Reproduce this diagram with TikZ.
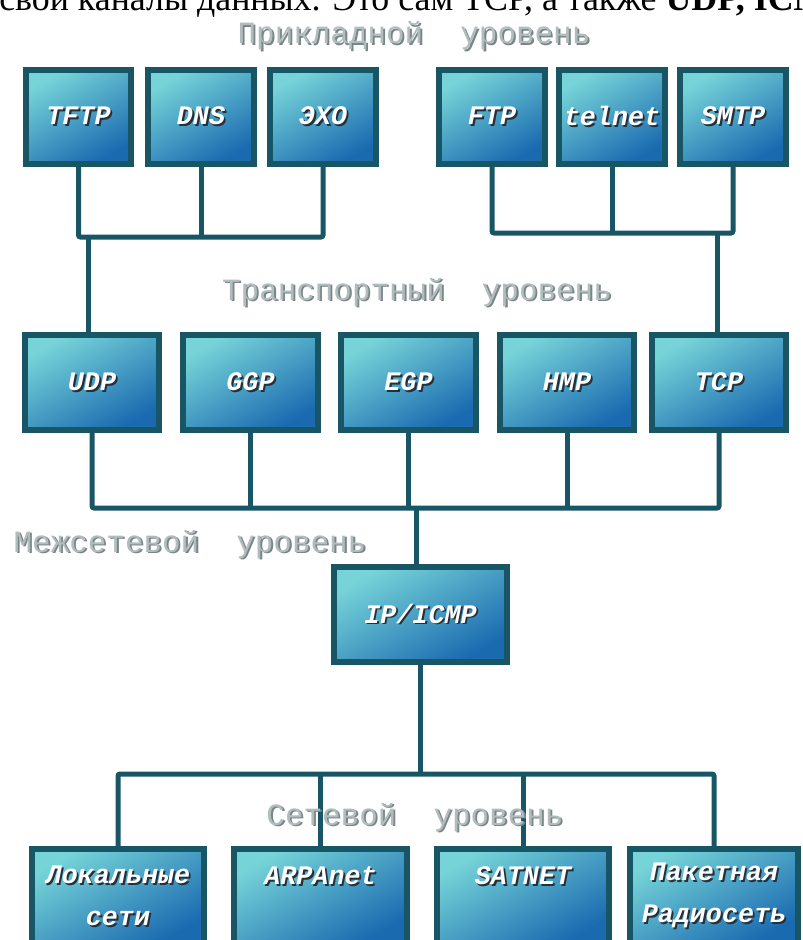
\documentclass[tikz,border=0pt]{standalone}
\usepackage{fontspec}
\setmainfont{Liberation Serif}
\newfontfamily\protofont{Liberation Mono}
\definecolor{edgeC}{RGB}{24,86,102}
\definecolor{boxTop}{RGB}{118,212,216}
\definecolor{boxBot}{RGB}{26,106,176}
\definecolor{layerC}{RGB}{178,188,188}
\definecolor{layerS}{RGB}{120,134,136}
\definecolor{protoS}{RGB}{38,48,58}
% text with a drop shadow: {colour}{shadow colour}{text}
\newcommand{\castshadow}[3]{\rlap{\kern1.3pt\raisebox{-1.3pt}{\textcolor{#2}{#3}}}\textcolor{#1}{#3}}
\newcommand{\plab}[1]{\castshadow{white}{protoS}{#1}}
\newcommand{\llab}[1]{\castshadow{layerC}{layerS}{#1}}

\begin{document}
\begin{tikzpicture}[x=0.025cm,y=-0.025cm,
    proto/.style={draw=edgeC,line width=0.15cm,top color=boxTop,bottom color=boxBot,
      shading angle=30,minimum width=2.625cm,minimum height=2.35cm,inner sep=0pt,
      align=center,font=\protofont\bfseries\itshape\fontsize{19}{30}\selectfont},
    widebox/.style={proto,minimum width=3.35cm,minimum height=2.375cm},
    netbox/.style={proto,minimum width=4.3cm,minimum height=2.375cm},
    link/.style={draw=edgeC,line width=0.125cm,rounded corners=0.05cm},
    layer/.style={anchor=base,inner sep=0pt,font=\protofont\fontsize{22}{26}\selectfont}]
  \useasboundingbox (0,0) rectangle (802,940);
  \clip (0,0) rectangle (802,940);

  % cut-off line of the page above
  \node[anchor=base west,inner sep=0pt,font=\fontsize{25.5}{30}\selectfont] (intro) at (-1,11)
    {свои каналы данных. Это сам TCP, а также \textbf{UDP, ICMP}};

  % application protocols
  \node[proto] (tftp) at (78.5,117) {\plab{TFTP}};
  \node[proto] (dns) at (201,117) {\plab{DNS}};
  \node[proto] (echo) at (323,117) {\plab{ЭХО}};
  \node[proto] (ftp) at (492,117) {\plab{FTP}};
  \node[proto] (telnet) at (612,117) {\plab{telnet}};
  \node[proto] (smtp) at (733,117) {\plab{SMTP}};

  % transport protocols
  \node[widebox] (udp) at (92,382.5) {\plab{UDP}};
  \node[widebox] (ggp) at (250.5,382.5) {\plab{GGP}};
  \node[widebox] (egp) at (408.5,382.5) {\plab{EGP}};
  \node[widebox] (hmp) at (567,382.5) {\plab{HMP}};
  \node[widebox] (tcp) at (719,382.5) {\plab{TCP}};

  % internet layer
  \node[proto,minimum width=4.325cm,minimum height=2.375cm] (ip) at (420.5,614.5) {\plab{IP/ICMP}};

  % networks
  \node[netbox] (lan) at (118,896.5) {\plab{Локальные}\\\plab{сети}};
  \node[netbox] (arpa) at (320.5,896.5) {\plab{ARPAnet}\\\phantom{сети}};
  \node[netbox] (satnet) at (523,896.5) {\plab{SATNET}\\\phantom{сети}};
  \node[netbox,minimum width=4.2cm] (radio) at (714,896.5) {\plab{Пакетная}\\\plab{Радиосеть}};

  % junctions
  \coordinate (appL) at (88,237);
  \coordinate (appR) at (717,233);
  \coordinate (trbus) at (416,508);
  \coordinate (netbus) at (418,774);

  % application -> transport
  \draw[link] (tftp.south) |- (echo.south |- appL) -- (echo.south);
  \draw[link] (dns.south) -- (dns.south |- appL);
  \draw[link] (appL) -- (appL |- udp.north);
  \draw[link] (ftp.south) |- (smtp.south |- appR) -- (smtp.south);
  \draw[link] (telnet.south) -- (telnet.south |- appR);
  \draw[link] (appR) -- (appR |- tcp.north);

  % transport -> IP
  \draw[link] (udp.south) |- (tcp.south |- trbus) -- (tcp.south);
  \foreach \n in {ggp,egp,hmp}
    \draw[link] (\n.south) -- (\n.south |- trbus);
  \draw[link] (trbus) -- (trbus |- ip.north);

  % IP -> networks
  \draw[link] (lan.north) |- (radio.north |- netbus) -- (radio.north);
  \foreach \n in {arpa,satnet}
    \draw[link] (\n.north) -- (\n.north |- netbus);
  \draw[link] (ip.south) -- (ip.south |- netbus);

  % layer captions (over the lines)
  \node[layer] (applab) at (414,44) {\llab{Прикладной\ \ уровень}};
  \node[layer] (trlab) at (417,300) {\llab{Транспортный\ \ уровень}};
  \node[layer] (iplab) at (190,552) {\llab{Межсетевой\ \ уровень}};
  \node[layer] (netlab) at (415,825) {\llab{Сетевой\ \ уровень}};
\end{tikzpicture}
\end{document}
